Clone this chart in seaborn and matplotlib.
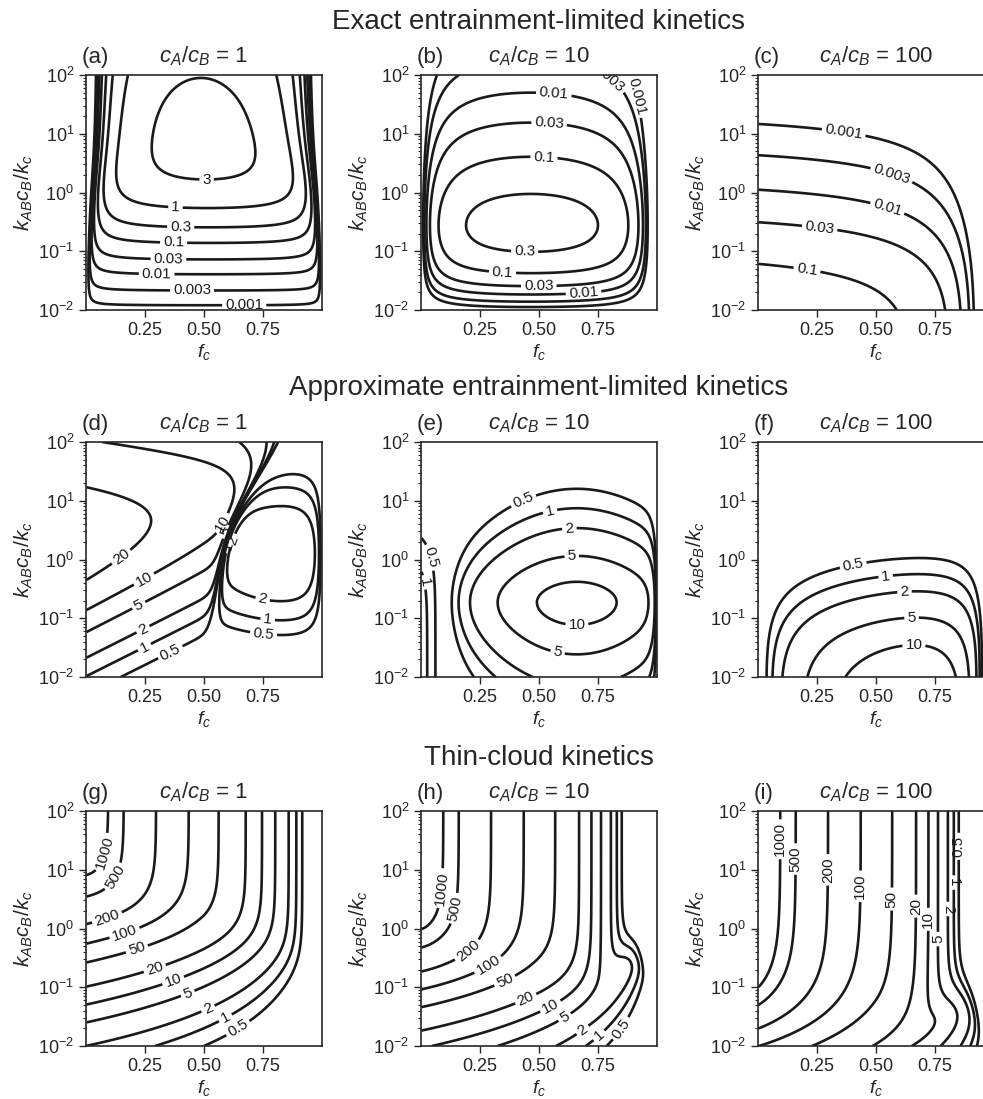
import numpy as np
import matplotlib
matplotlib.use("Agg")
import matplotlib.pyplot as plt
import seaborn as sns

# ---------------- data / labels ----------------
ratio_labels = ["1", "10", "100"]
panel_letters = [["(a)", "(b)", "(c)"], ["(d)", "(e)", "(f)"], ["(g)", "(h)", "(i)"]]
row_titles = ["Exact entrainment-limited kinetics",
              "Approximate entrainment-limited kinetics",
              "Thin-cloud kinetics"]
levels_exact = [0.001, 0.003, 0.01, 0.03, 0.1, 0.3, 1, 3]
levels_approx = [0.5, 1, 2, 5, 10, 20]
levels_thin = [0.5, 1, 2, 5, 10, 20, 50, 100, 200, 500, 1000]
x_ticks = [0.25, 0.50, 0.75]
x_tick_labels = ["0.25", "0.50", "0.75"]
y_ticks = [1e-2, 1e-1, 1e0, 1e1, 1e2]

# model parameters
exact_a = dict(p=0.646, s=1.9, b=0.25, uc=0.0, d=0.3, b2=0.4, ud=1.5,
               wl=0.4, kl=1.24, wr=0.45, kr=1.94, m=0.8)
exact_b = dict(p=0.094, s=0.95, b=0.35, uc=-0.5, k0=0.046, m=0.8, al=3.0, wl=0.08, wr=0.27)
exact_c = dict(p=-0.6, s=0.9, b=0.4, uc=-1.5, wr=0.5)
approx_f = dict(p=1.33, s=1.2, b=0.5, uc=-1.3, a0=1.35, a1=0.2, wr0=0.24, wr1=0.05)
thin_alpha = [200.0, 1100.0, 10100.0]
thin_sub = [0.22, 0.10, 0.05]
thin_c2 = [0.30, 0.43, 0.43]
thin_p2 = [1.35, 2.0, 2.0]
thin_w0 = [0.0, 1.0, 1.0]
thin_wpow = [40, 40, 20]
thin_kb = [2.9, 0.95, 0.2]
thin_n = [2.0, 1.5, 1.0]

# contour label anchors (level, f_c, log10 k) per panel
label_pos = {
    (0, 0): [(3, 0.51, 0.21), (1, 0.38, -0.27), (0.3, 0.40, -0.63), (0.1, 0.37, -0.91),
             (0.03, 0.35, -1.2), (0.01, 0.30, -1.49), (0.003, 0.45, -1.72), (0.001, 0.67, -1.78)],
    (0, 1): [(0.3, 0.44, -0.99), (0.1, 0.345, -1.36), (0.03, 0.50, -1.61), (0.01, 0.69, -1.74),
             (0.01, 0.56, 1.53), (0.03, 0.54, 1.03), (0.1, 0.52, 0.54), (0.003, 0.74, 1.65),
             (0.001, 0.86, 1.59)],
    (0, 2): [(0.001, 0.35, 0.68), (0.003, 0.55, 0.11), (0.01, 0.54, -0.38), (0.03, 0.26, -0.66),
             (0.1, 0.21, -1.26)],
    (1, 0): [(20, 0.17, -0.07), (10, 0.25, -0.37), (5, 0.215, -0.71), (2, 0.23, -1.09),
             (1, 0.24, -1.43), (0.5, 0.36, -1.6), (2, 0.75, -0.65), (1, 0.77, -1.02),
             (0.5, 0.75, -1.36), (10, 0.63, 0.5), (5, 0.645, 0.38), (2, 0.66, 0.27),
             (1, 0.675, 0.15)],
    (1, 1): [(10, 0.66, -1.09), (5, 0.58, -1.55), (5, 0.64, 0.01), (2, 0.63, 0.47),
             (1, 0.55, 0.77), (0.5, 0.44, 0.95), (0.5, 0.07, 0.07), (1, 0.03, -0.38)],
    (1, 2): [(0.5, 0.40, -0.01), (1, 0.54, -0.24), (2, 0.62, -0.52), (5, 0.65, -0.97),
             (10, 0.66, -1.35)],
    (2, 0): [(1000, 0.09, 1.28), (500, 0.12, 0.88), (200, 0.08, 0.29), (100, 0.16, -0.03),
             (50, 0.215, -0.34), (20, 0.29, -0.65), (10, 0.37, -0.9), (5, 0.43, -1.1),
             (2, 0.52, -1.39), (1, 0.60, -1.59), (0.5, 0.65, -1.73)],
    (2, 1): [(1000, 0.10, 0.68), (500, 0.15, 0.34), (200, 0.19, -0.34), (100, 0.29, -0.65),
             (50, 0.36, -0.93), (20, 0.44, -1.16), (10, 0.55, -1.33), (5, 0.62, -1.59),
             (2, 0.69, -1.76), (1, 0.76, -1.84), (0.5, 0.86, -1.73)],
    (2, 2): [(1000, 0.10, 1.52), (500, 0.157, 1.18), (200, 0.30, 1.0), (100, 0.417, 0.72),
             (50, 0.53, 0.5), (20, 0.65, 0.38), (10, 0.715, 0.16), (5, 0.77, -0.18),
             (2, 0.814, 0.33), (1, 0.838, 0.78), (0.5, 0.852, 1.4)],
}

# ---------------- grid ----------------
fgrid = np.linspace(0.002, 0.998, 500)
ugrid = np.linspace(-2, 2, 500)
FF, UU = np.meshgrid(fgrid, ugrid)
KK = 10.0 ** UU


def sp(x):
    return np.logaddexp(0.0, x)


def hyp(x, d):
    return np.sqrt(x * x + d * d) - d


def norm_rows(logF):
    return logF - logF.max(axis=1, keepdims=True)


def field_a(f, u, k):
    q = exact_a
    logG = q["p"] - q["s"] * q["b"] * sp((q["uc"] - u) / q["b"]) - q["d"] * q["b2"] * sp((u - q["ud"]) / q["b2"])
    wl = q["wl"] / (1 + (q["kl"] / k) ** q["m"])
    wr = q["wr"] / (1 + (q["kr"] / k) ** q["m"])
    logF = -0.4343 * (wl / f + wr / (1 - f))
    return 10 ** (logG + norm_rows(logF))


def field_b(f, u, k):
    q = exact_b
    logG = q["p"] - q["s"] * q["b"] * sp((u - q["uc"]) / q["b"]) - (q["k0"] / k) ** q["m"]
    logF = q["al"] * np.log10(f / (f + q["wl"])) - 0.4343 * q["wr"] / (1 - f)
    return 10 ** (logG + norm_rows(logF))


def field_c(f, u, k):
    q = exact_c
    logG = q["p"] - q["s"] * q["b"] * sp((u - q["uc"]) / q["b"])
    logF = -0.4343 * q["wr"] / (1 - f)
    return 10 ** (logG + norm_rows(logF))


def field_d(f, u, k):
    h = 10 ** (-2 * f)
    El = 100 * k * h / (1 + k * h ** 0.88 / 0.39) / (1 + k / 4.9) ** 0.43
    Er = (10 ** (0.62 - 0.476 * (u - 0.1) ** 2 - 3.0 * (f - 0.85) ** 2)
          * (1 - np.exp(-(1 - f) / 0.04)))
    f0 = 0.57 + 0.025 * u + 0.042 * sp((u - 0.5) / 0.3)
    wt = 0.025 * 10 ** (0.15 * sp((u - 0.8) / 0.2))
    M = np.where(f < f0, El, Er)
    return np.abs(M * np.tanh((f - f0) / wt))


def field_e(f, u, k):
    du = u + 0.73
    su = np.where(du < 0, 0.8, 0.95)
    Er = 10 ** (1.1 - 3.5 * (f - 0.66) ** 2 - su * hyp(du, 0.53)) * (1 - np.exp(-(1 - f) / 0.02))
    El = 10 ** (0.25 - 0.2 * sp((u + 0.1) / 0.25))
    f0 = 0.09
    M = np.where(f < f0, El, Er)
    return np.abs(M * np.tanh((f - f0) / 0.1))


def field_f(f, u, k):
    q = approx_f
    Lu = q["p"] - q["s"] * q["b"] * sp((u - q["uc"]) / q["b"])
    a = np.clip(q["a0"] - q["a1"] * (u + 2), 0.3, None)
    wr = np.clip(q["wr0"] - q["wr1"] * (u + 2), 0.05, None)
    Lf = a * np.log10(f) - 0.4343 * wr / (1 - f)
    return 10 ** (Lu + norm_rows(Lf))


def field_thin(i):
    def fn(f, u, k):
        Vlow = thin_alpha[i] * k * (1 - f) ** 2 / (1 + k) ** thin_sub[i]
        L = np.log(f / (1 - f))
        logVinf = 1.87 - 0.5 * L - thin_c2[i] * np.maximum(L, 0) ** thin_p2[i]
        W = thin_w0[i] * (f / 0.87) ** thin_wpow[i]
        Vhi = 10 ** logVinf * (1 + W * (thin_kb[i] / k) ** 2)
        n = thin_n[i]
        return (Vlow ** -n + Vhi ** -n) ** (-1 / n)
    return fn


fields = [[field_a, field_b, field_c],
          [field_d, field_e, field_f],
          [field_thin(0), field_thin(1), field_thin(2)]]
row_levels = [levels_exact, levels_approx, levels_thin]

# ---------------- style ----------------
sns.set_theme(style="ticks")
plt.rcParams["font.family"] = ["Liberation Sans", "DejaVu Sans"]
plt.rcParams["mathtext.fontset"] = "custom"
plt.rcParams["mathtext.rm"] = "Liberation Sans"
plt.rcParams["mathtext.it"] = "Liberation Sans:italic"
plt.rcParams["mathtext.bf"] = "Liberation Sans:bold"
plt.rcParams["axes.linewidth"] = 1.2

W_PX, H_PX = 983, 1099
fig = plt.figure(figsize=(W_PX / 100, H_PX / 100), dpi=100)

col_left = [86, 421, 758]
row_top = [75, 442, 811]
ax_w, ax_h = 236, 235
row_title_y = [22, 388, 758]


def fmt(v):
    return f"{v:g}"


def snapped_points(cs, wanted):
    pts, levs = [], []
    paths = cs.get_paths()
    lev_arr = np.asarray(cs.levels, dtype=float)
    for lev, fx, uy in wanted:
        idx = np.where(np.isclose(lev_arr, lev))[0]
        if len(idx) == 0:
            continue
        verts = paths[idx[0]].vertices
        if verts is None or len(verts) == 0:
            continue
        vx = verts[:, 0]
        vy = (np.log10(np.clip(verts[:, 1], 1e-9, None)) + 2) / 4
        d = (vx - fx) ** 2 + (vy - (uy + 2) / 4) ** 2
        j = int(np.argmin(d))
        if d[j] > 0.02:
            continue
        pts.append((vx[j], verts[j, 1]))
        levs.append(lev)
    return pts, levs


for r in range(3):
    for c in range(3):
        x0 = col_left[c] / W_PX
        y0 = 1 - (row_top[r] + ax_h) / H_PX
        ax = fig.add_axes([x0, y0, ax_w / W_PX, ax_h / H_PX])
        V = fields[r][c](FF, UU, KK)
        cs = ax.contour(FF, KK, V, levels=row_levels[r], colors="k", linewidths=1.9)
        ax.set_yscale("log")
        ax.set_xlim(0, 1)
        ax.set_ylim(1e-2, 1e2)
        pts, levs = snapped_points(cs, label_pos[(r, c)])
        if pts:
            try:
                ax.clabel(cs, sorted(set(levs)), manual=pts, fmt=fmt, fontsize=11,
                          inline=True, inline_spacing=3)
            except Exception:
                pass
        ax.set_xticks(x_ticks)
        ax.set_xticklabels(x_tick_labels)
        ax.set_yticks(y_ticks)
        ax.tick_params(axis="both", labelsize=13, length=5, width=1.0, direction="out")
        ax.tick_params(axis="y", which="minor", length=2.5, width=0.8)
        ax.set_xlabel(r"$f_c$", fontsize=14, labelpad=2)
        ax.set_ylabel(r"$k_{AB}c_B/k_c$", fontsize=15, labelpad=2)
        ax.text(-0.02, 1.03, panel_letters[r][c], transform=ax.transAxes,
                fontsize=16, ha="left", va="bottom")
        ax.text(0.5, 1.03, r"$c_A/c_B$ = " + ratio_labels[c], transform=ax.transAxes,
                fontsize=16, ha="center", va="bottom")
    fig.text((col_left[1] + ax_w / 2) / W_PX, 1 - row_title_y[r] / H_PX, row_titles[r],
             fontsize=20, ha="center", va="center")

fig.savefig("out.png", dpi=100)
